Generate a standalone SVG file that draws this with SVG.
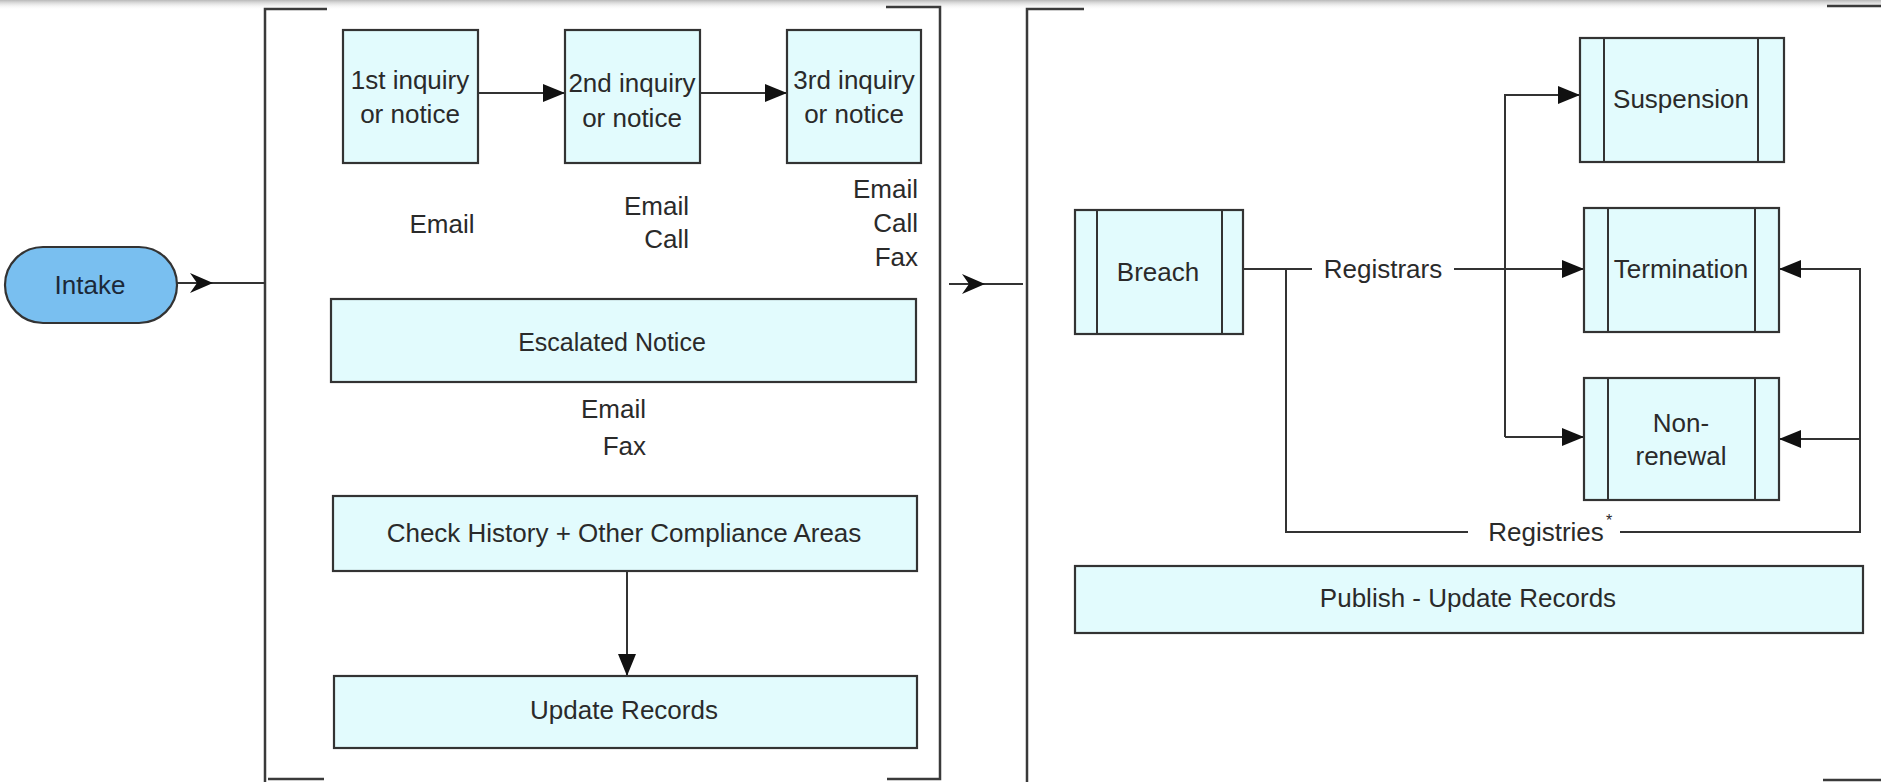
<svg xmlns="http://www.w3.org/2000/svg" width="1881" height="782" viewBox="0 0 1881 782">
<style>
text{font-family:"Liberation Sans",Arial,sans-serif;font-size:26px;fill:#2a2a2a}
.c{text-anchor:middle}
.r{text-anchor:end}
.box{fill:#e2fbfd;stroke:#333;stroke-width:2.2}
.inner{stroke:#333;stroke-width:2}
.ln{fill:none;stroke:#333;stroke-width:2}
.br{fill:none;stroke:#3a3a3a;stroke-width:2.5}
</style>
<defs>
<marker id="triB" viewBox="0 0 10 10" refX="10" refY="5" markerWidth="22" markerHeight="18" markerUnits="userSpaceOnUse" orient="auto" preserveAspectRatio="none">
<path d="M0,0 L10,5 L0,10 Z" fill="#111"/>
</marker>
<linearGradient id="shadow" x1="0" y1="0" x2="0" y2="1">
<stop offset="0" stop-color="#9a9a9a" stop-opacity="0.7"/>
<stop offset="1" stop-color="#ffffff" stop-opacity="0"/>
</linearGradient>
</defs>
<rect x="0" y="0" width="1881" height="782" fill="#fff"/>
<rect x="0" y="0" width="1881" height="10" fill="url(#shadow)"/>

<g id="containers">
<path class="br" d="M327,9 H265 V782"/>
<path class="br" d="M886,7 H940 V779 H887"/>
<path class="br" d="M268,779 H324"/>
<path class="br" d="M1084,9 H1027 V782"/>
<path class="br" d="M1827,6 H1881"/>
<path class="br" d="M1823,780 H1881"/>
</g>

<g id="connectors">
<line class="ln" x1="177" y1="283" x2="265" y2="283"/>
<path d="M190,273 L213,283 L190,293 L197,283 Z" fill="#111"/>
<line class="ln" x1="949" y1="284" x2="1023" y2="284"/>
<path d="M962,274 L985,284 L962,294 L969,284 Z" fill="#111"/>
<line class="ln" x1="478" y1="93" x2="565" y2="93" marker-end="url(#triB)"/>
<line class="ln" x1="700" y1="93" x2="787" y2="93" marker-end="url(#triB)"/>
<line class="ln" x1="627" y1="571" x2="627" y2="676" marker-end="url(#triB)"/>
<path class="ln" d="M1243,269 H1312"/>
<path class="ln" d="M1454,269 H1584" marker-end="url(#triB)"/>
<path class="ln" d="M1505,437 V95 H1580" marker-end="url(#triB)"/>
<path class="ln" d="M1505,437 H1584" marker-end="url(#triB)"/>
<path class="ln" d="M1286,269 V532 H1468"/>
<path class="ln" d="M1620,532 H1860 V269 H1779" marker-end="url(#triB)"/>
<path class="ln" d="M1860,439 H1779" marker-end="url(#triB)"/>
<text class="c" x="1383" y="278">Registrars</text>
<text class="c" x="1546" y="541">Registries</text>
<text x="1606" y="526" style="font-size:16px">*</text>
</g>

<g id="intake">
<rect x="5" y="247" width="172" height="76" rx="38" ry="38" fill="#79bff0" stroke="#333" stroke-width="2.2"/>
<text class="c" x="90" y="294" style="fill:#1b2838">Intake</text>
</g>

<g id="inquiry1">
<rect class="box" x="343" y="30" width="135" height="133"/>
<text class="c" x="410" y="89">1st inquiry</text>
<text class="c" x="410" y="123">or notice</text>
</g>
<g id="inquiry2">
<rect class="box" x="565" y="30" width="135" height="133"/>
<text class="c" x="632" y="92">2nd inquiry</text>
<text class="c" x="632" y="127">or notice</text>
</g>
<g id="inquiry3">
<rect class="box" x="787" y="30" width="134" height="133"/>
<text class="c" x="854" y="89">3rd inquiry</text>
<text class="c" x="854" y="123">or notice</text>
</g>

<g id="channels">
<text class="c" x="442" y="233">Email</text>
<text class="r" x="689" y="215">Email</text>
<text class="r" x="689" y="248">Call</text>
<text class="r" x="918" y="198">Email</text>
<text class="r" x="918" y="232">Call</text>
<text class="r" x="918" y="266">Fax</text>
<text class="r" x="646" y="418">Email</text>
<text class="r" x="646" y="455">Fax</text>
</g>

<g id="escalated">
<rect class="box" x="331" y="299" width="585" height="83"/>
<text class="c" x="612" y="351" style="font-size:25px">Escalated Notice</text>
</g>
<g id="check-history">
<rect class="box" x="333" y="496" width="584" height="75"/>
<text class="c" x="624" y="542">Check History + Other Compliance Areas</text>
</g>
<g id="update-records">
<rect class="box" x="334" y="676" width="583" height="72"/>
<text class="c" x="624" y="719">Update Records</text>
</g>

<g id="breach">
<rect class="box" x="1075" y="210" width="168" height="124"/>
<line class="inner" x1="1097" y1="210" x2="1097" y2="334"/>
<line class="inner" x1="1222" y1="210" x2="1222" y2="334"/>
<text class="c" x="1158" y="281">Breach</text>
</g>
<g id="suspension">
<rect class="box" x="1580" y="38" width="204" height="124"/>
<line class="inner" x1="1604" y1="38" x2="1604" y2="162"/>
<line class="inner" x1="1758" y1="38" x2="1758" y2="162"/>
<text class="c" x="1681" y="108">Suspension</text>
</g>
<g id="termination">
<rect class="box" x="1584" y="208" width="195" height="124"/>
<line class="inner" x1="1608" y1="208" x2="1608" y2="332"/>
<line class="inner" x1="1755" y1="208" x2="1755" y2="332"/>
<text class="c" x="1681" y="278">Termination</text>
</g>
<g id="non-renewal">
<rect class="box" x="1584" y="378" width="195" height="122"/>
<line class="inner" x1="1608" y1="378" x2="1608" y2="500"/>
<line class="inner" x1="1755" y1="378" x2="1755" y2="500"/>
<text class="c" x="1681" y="432">Non-</text>
<text class="c" x="1681" y="465">renewal</text>
</g>
<g id="publish">
<rect class="box" x="1075" y="566" width="788" height="67"/>
<text class="c" x="1468" y="607">Publish - Update Records</text>
</g>
</svg>
